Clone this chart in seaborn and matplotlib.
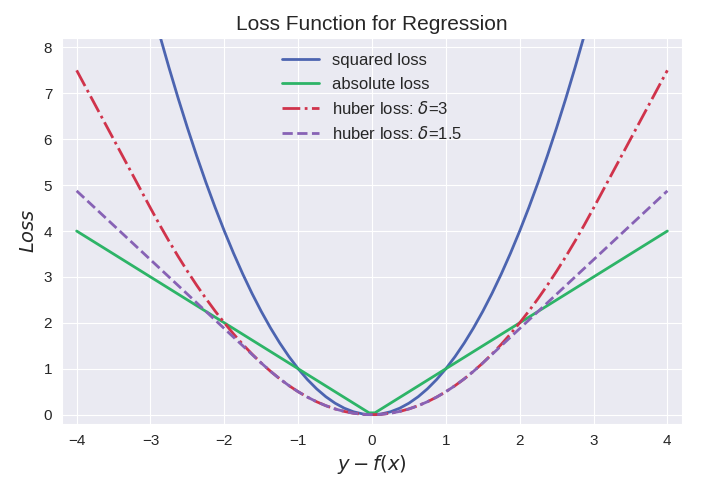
import numpy as np
import matplotlib
matplotlib.use("Agg")
import matplotlib.pyplot as plt
import seaborn as sns

# residual y - f(x), right half (left half is the mirror image)
x_half = [0.04, 0.125, 0.25, 0.375, 0.5, 0.625, 0.75, 0.875, 1.0, 1.125, 1.25,
          1.375, 1.5, 1.625, 1.75, 1.875, 2.0, 2.125, 2.25, 2.375, 2.5, 2.625,
          2.75, 2.875, 3.0, 3.125, 3.25, 3.375, 3.5, 3.625, 3.75, 3.875, 4.0]
squared_half = [0.0016, 0.0156, 0.0625, 0.1406, 0.25, 0.3906, 0.5625, 0.7656,
                1.0, 1.2656, 1.5625, 1.8906, 2.25, 2.6406, 3.0625, 3.5156, 4.0,
                4.5156, 5.0625, 5.6406, 6.25, 6.8906, 7.5625, 8.2656, 9.0,
                9.7656, 10.5625, 11.3906, 12.25, 13.1406, 14.0625, 15.0156, 16.0]
absolute_half = [0.04, 0.125, 0.25, 0.375, 0.5, 0.625, 0.75, 0.875, 1.0, 1.125,
                 1.25, 1.375, 1.5, 1.625, 1.75, 1.875, 2.0, 2.125, 2.25, 2.375,
                 2.5, 2.625, 2.75, 2.875, 3.0, 3.125, 3.25, 3.375, 3.5, 3.625,
                 3.75, 3.875, 4.0]
huber3_half = [0.0008, 0.0078, 0.0313, 0.0703, 0.125, 0.1953, 0.2813, 0.3828,
               0.5, 0.6328, 0.7813, 0.9453, 1.125, 1.3203, 1.5313, 1.7578, 2.0,
               2.2578, 2.5313, 2.8203, 3.125, 3.4453, 3.7813, 4.1328, 4.5,
               4.875, 5.25, 5.625, 6.0, 6.375, 6.75, 7.125, 7.5]
huber15_half = [0.0008, 0.0078, 0.0313, 0.0703, 0.125, 0.1953, 0.2813, 0.3828,
                0.5, 0.6328, 0.7813, 0.9453, 1.125, 1.3125, 1.5, 1.6875, 1.875,
                2.0625, 2.25, 2.4375, 2.625, 2.8125, 3.0, 3.1875, 3.375, 3.5625,
                3.75, 3.9375, 4.125, 4.3125, 4.5, 4.6875, 4.875]


def mirror(vals, sign=1):
    return [sign * v for v in vals[::-1]] + list(vals)


x = mirror(x_half, -1)
series = [
    ("squared loss", mirror(squared_half), "#4C64B0", "-"),
    ("absolute loss", mirror(absolute_half), "#2DB467", "-"),
    (r"huber loss: $\delta$=3", mirror(huber3_half), "#D0334B", "-."),
    (r"huber loss: $\delta$=1.5", mirror(huber15_half), "#8762B5", "--"),
]

sns.set_style("darkgrid")
plt.rcParams["font.family"] = ["Liberation Sans", "DejaVu Sans"]
plt.rcParams["mathtext.fontset"] = "dejavusans"

fig, ax = plt.subplots(figsize=(7.28, 4.90), dpi=100)
for label, y, color, ls in series:
    sns.lineplot(x=x, y=y, ax=ax, color=color, linestyle=ls, linewidth=2,
                 label=label, sort=False)

ax.set_xlim(-4.2, 4.2)
ax.set_ylim(-0.2, 8.2)
ax.set_xticks(range(-4, 5))
ax.set_yticks(range(0, 9))
ax.set_xticklabels(["\u2212%d" % -t if t < 0 else str(t) for t in range(-4, 5)])
ax.tick_params(labelsize=11, colors="#262626")

ax.set_title("Loss Function for Regression", fontsize=15, color="#262626")
ax.set_xlabel(r"$y - f(x)$", fontsize=14, color="#262626")
ax.set_ylabel(r"$Loss$", fontsize=14, color="#262626")

leg = ax.legend(loc="upper center", fontsize=12, frameon=False,
                handlelength=2.2, bbox_to_anchor=(0.5, 1.0))
for t in leg.get_texts():
    t.set_color("#262626")

fig.subplots_adjust(left=0.085, right=0.937, top=0.922, bottom=0.135)
fig.savefig("out.png", dpi=100)
